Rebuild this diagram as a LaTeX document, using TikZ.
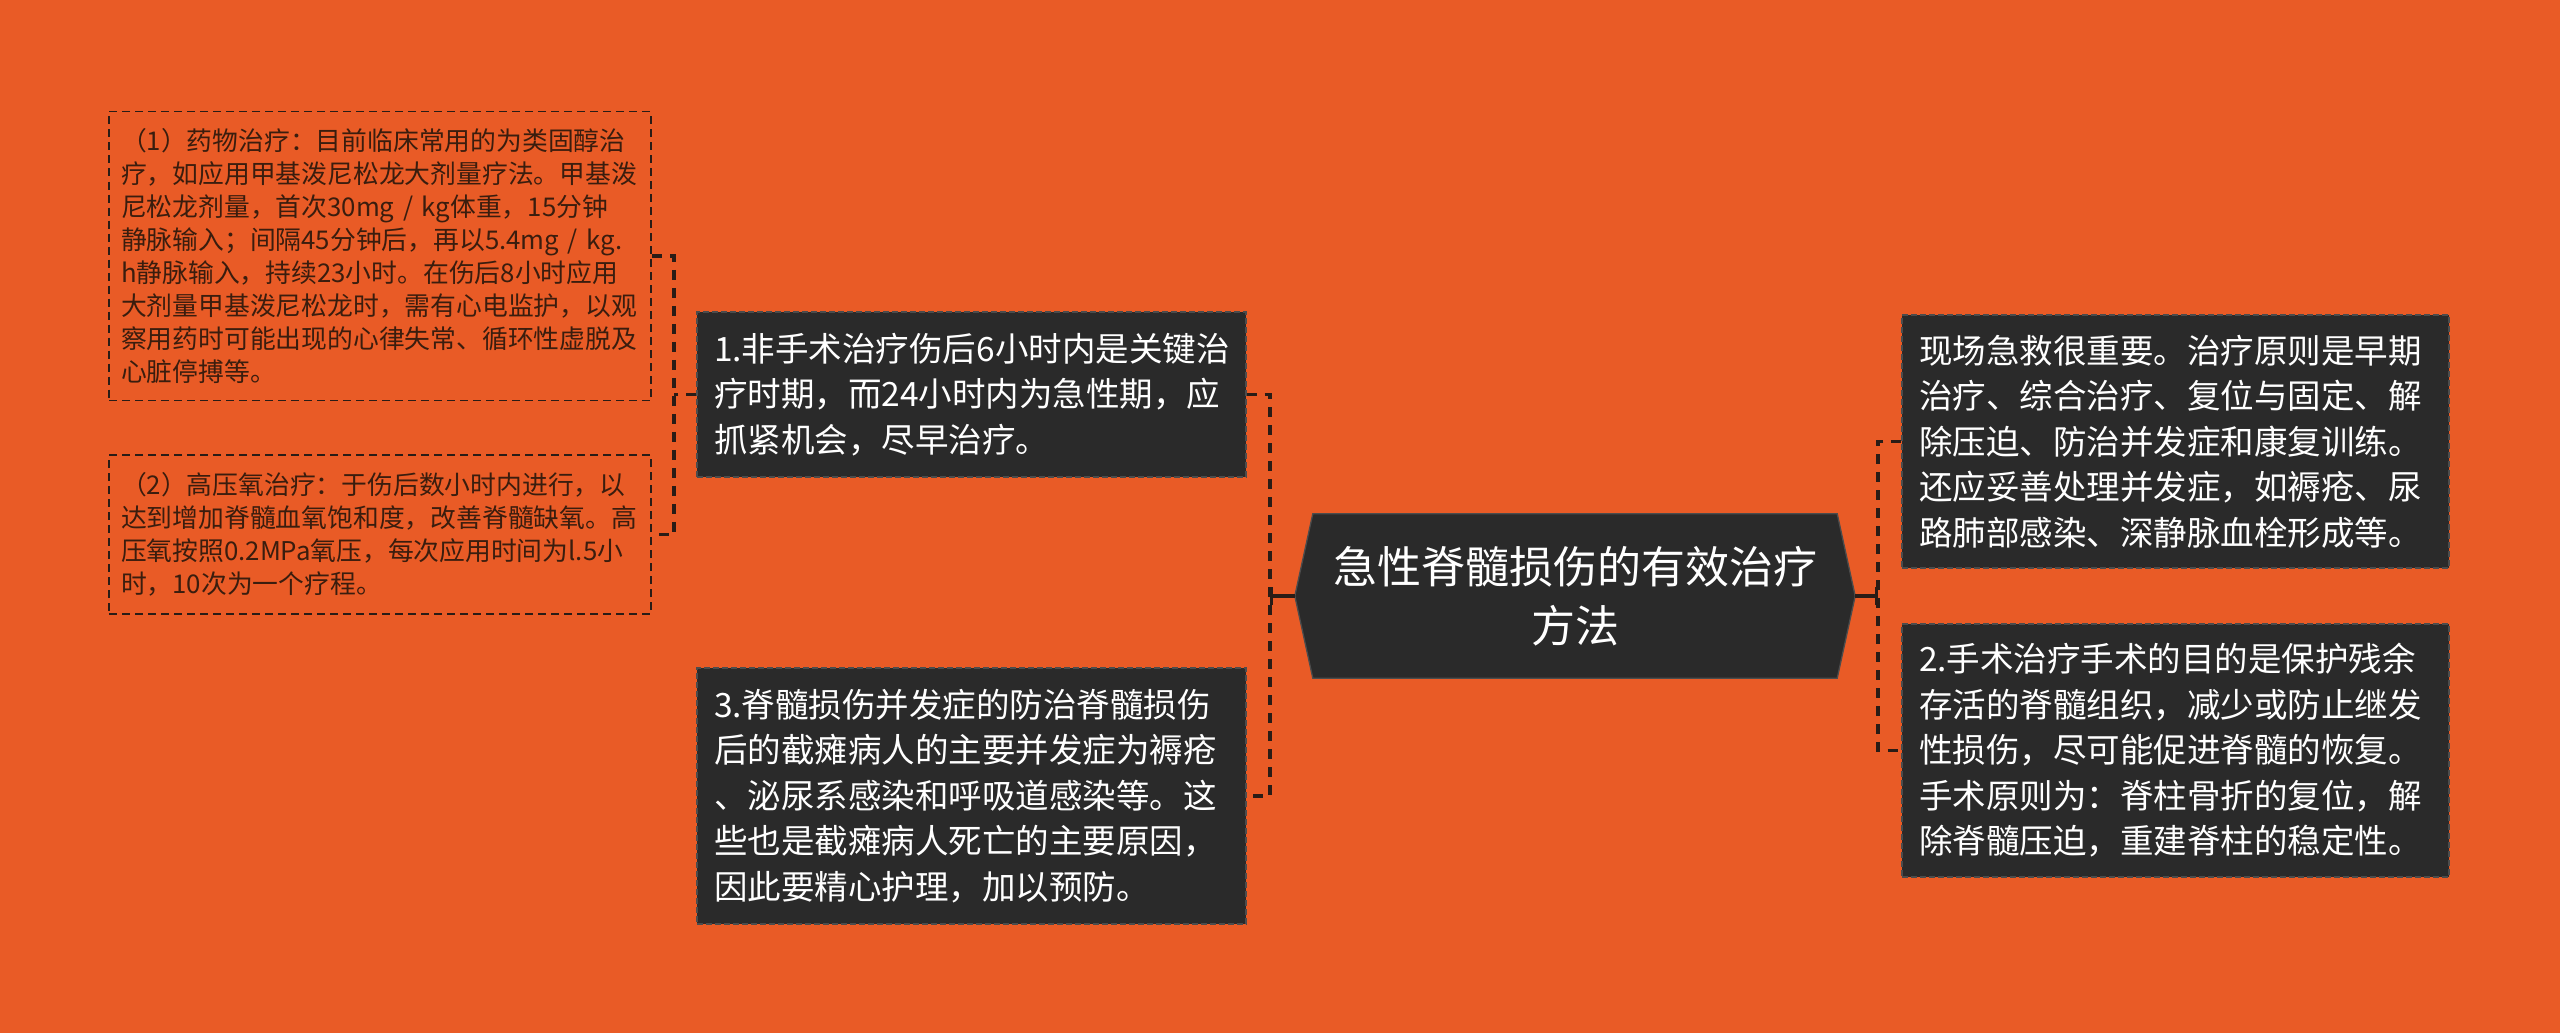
\documentclass[tikz,border=0pt]{standalone}
\usepackage{fontspec}
\setmainfont{Noto Sans CJK SC}
\usetikzlibrary{arrows.meta}
\definecolor{bg}{HTML}{E95B26}
\definecolor{boxdark}{HTML}{2A2A2A}
\definecolor{ltxt}{HTML}{3A1D0E}
\definecolor{lnk}{HTML}{2A1C16}
\begin{document}
\begin{tikzpicture}[x=1pt,y=-1pt,
  lbox/.style={draw=lnk, line width=1.6pt, dash pattern=on 8pt off 5pt, fill=bg,
    text=ltxt, align=left, inner xsep=12pt, inner ysep=0pt,
    font=\fontsize{25.8}{33}\selectfont, anchor=center},
  dbox/.style={draw=black!70, line width=1.3pt, dash pattern=on 6pt off 3pt, fill=boxdark,
    text=white, align=left, inner xsep=17pt, inner ysep=0pt,
    font=\fontsize{33.5}{45.5}\selectfont, anchor=center},
  conn/.style={draw=lnk, line width=3.4pt, dash pattern=on 10pt off 8pt},
  cline/.style={draw=lnk, line width=3.4pt, -{Bar[width=18pt,line width=3.4pt]}}
]
\fill[bg] (0,0) rectangle (2560,1033);
\useasboundingbox (0,0) rectangle (2560,1033);

% left small boxes
\node[lbox, text width=518pt, minimum height=289pt] (L1) at (380,256)
{（1）药物治疗：目前临床常用的为类固醇治\\
疗，如应用甲基泼尼松龙大剂量疗法。甲基泼\\
尼松龙剂量，首次30mg~/~kg体重，15分钟\\
静脉输入；间隔45分钟后，再以5.4mg~/~kg.\\
h静脉输入，持续23小时。在伤后8小时应用\\
大剂量甲基泼尼松龙时，需有心电监护，以观\\
察用药时可能出现的心律失常、循环性虚脱及\\
心脏停搏等。};

\node[lbox, text width=518pt, minimum height=159pt] (L2) at (380,534.5)
{（2）高压氧治疗：于伤后数小时内进行，以\\
达到增加脊髓血氧饱和度，改善脊髓缺氧。高\\
压氧按照0.2MPa氧压，每次应用时间为l.5小\\
时，10次为一个疗程。};

% dark boxes
\node[dbox, text width=515pt, minimum height=165pt] (B1) at (971.5,394.5)
{1.非手术治疗伤后6小时内是关键治\\
疗时期，而24小时内为急性期，应\\
抓紧机会，尽早治疗。};

\node[dbox, text width=515pt, minimum height=256pt] (B3) at (971.5,796)
{3.脊髓损伤并发症的防治脊髓损伤\\
后的截瘫病人的主要并发症为褥疮\\
、泌尿系感染和呼吸道感染等。这\\
些也是截瘫病人死亡的主要原因，\\
因此要精心护理，加以预防。};

\node[dbox, text width=513pt, minimum height=253pt] (R1) at (2175.5,441.5)
{现场急救很重要。治疗原则是早期\\
治疗、综合治疗、复位与固定、解\\
除压迫、防治并发症和康复训练。\\
还应妥善处理并发症，如褥疮、尿\\
路肺部感染、深静脉血栓形成等。};

\node[dbox, text width=513pt, minimum height=253pt] (R2) at (2175.5,750.5)
{2.手术治疗手术的目的是保护残余\\
存活的脊髓组织，减少或防止继发\\
性损伤，尽可能促进脊髓的恢复。\\
手术原则为：脊柱骨折的复位，解\\
除脊髓压迫，重建脊柱的稳定性。};

% center node
\node[minimum width=560pt, minimum height=164pt, inner sep=0pt] (C) at (1575,596) {};
\draw[fill=boxdark, draw=black!70, line width=1.3pt]
  ([xshift=18pt]C.north west) -- ([xshift=-18pt]C.north east) -- (C.east)
  -- ([xshift=-18pt]C.south east) -- ([xshift=18pt]C.south west) -- (C.west) -- cycle;
\node[text=white, align=center, font=\fontsize{44}{59}\selectfont] (CT) at (C.center)
{急性脊髓损伤的有效治疗\\方法};

% connectors
\coordinate (jl) at (674,394.5);
\coordinate (jm) at (1270,596);
\coordinate (jr) at (1878,596);
\draw[conn] (B1.west) -- (jl);
\draw[conn] (L1.east) -| (jl) |- (L2.east);
\draw[conn] (B1.east) -| (jm) |- (B3.east);
\draw[conn] (R1.west) -| (jr) |- (R2.west);
\draw[cline] (C.west) -- (jm);
\draw[cline] (C.east) -- (jr);
\end{tikzpicture}
\end{document}
